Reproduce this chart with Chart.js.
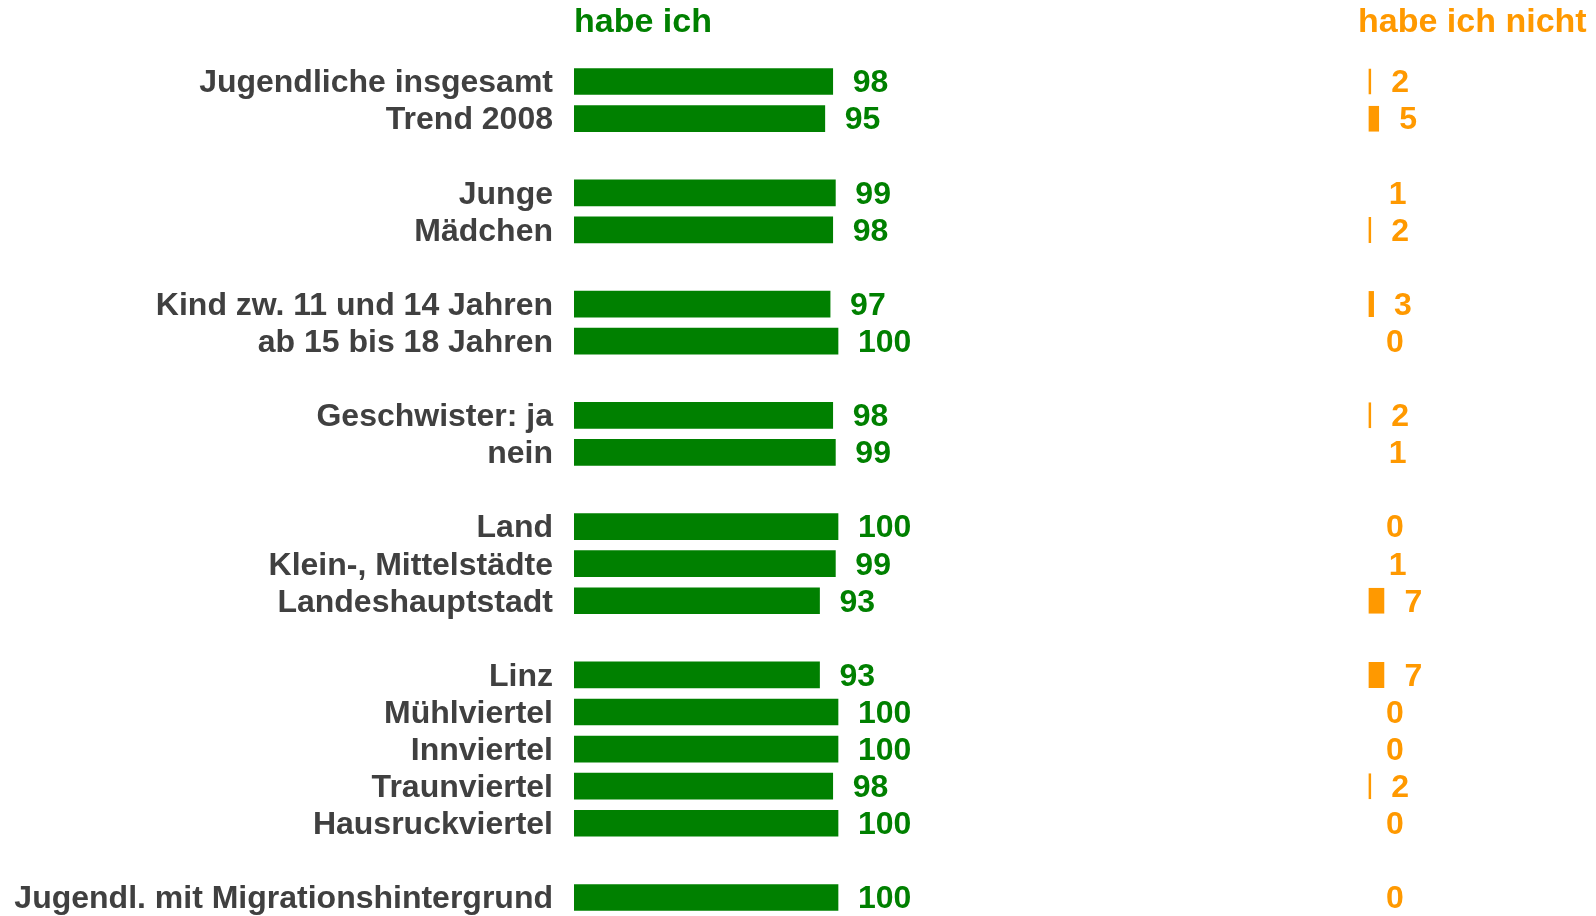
<!DOCTYPE html>
<html>
<head>
<meta charset="utf-8">
<script src="https://cdn.jsdelivr.net/npm/chart.js@4"></script>
<style>
  html, body { margin: 0; padding: 0; background: #fff; }
  #wrap { position: relative; width: 1596px; height: 916px; }
</style>
</head>
<body>
<div id="wrap"><canvas id="chart"></canvas></div>
<script>
// empty strings are spacer rows between the groups
const categories = [
  'Jugendliche insgesamt', 'Trend 2008', '',
  'Junge', 'Mädchen', '',
  'Kind zw. 11 und 14 Jahren', 'ab 15 bis 18 Jahren', '',
  'Geschwister: ja', 'nein', '',
  'Land', 'Klein-, Mittelstädte', 'Landeshauptstadt', '',
  'Linz', 'Mühlviertel', 'Innviertel', 'Traunviertel', 'Hausruckviertel', '',
  'Jugendl. mit Migrationshintergrund'
];
const habeIch = [98, 95, null, 99, 98, null, 97, 100, null, 98, 99, null, 100, 99, 93, null, 93, 100, 100, 98, 100, null, 100];
const habeIchNicht = [2, 5, null, 1, 2, null, 3, 0, null, 2, 1, null, 0, 1, 7, null, 7, 0, 0, 2, 0, null, 0];
const seriesTitles = ['habe ich', 'habe ich nicht'];

const GREEN = '#008000';
const ORANGE = '#ff9900';
const GREY = '#404040';
const FONT = '"Liberation Sans", Arial, sans-serif';
const labelColors = [GREEN, ORANGE];

const textLayer = {
  id: 'textLayer',
  afterDatasetsDraw(chart) {
    const ctx = chart.ctx;
    const yScale = chart.scales.y;
    ctx.save();
    ctx.font = 'bold 32px ' + FONT;
    ctx.textBaseline = 'middle';

    // category names, right aligned left of the bars
    ctx.textAlign = 'right';
    ctx.fillStyle = GREY;
    yScale.ticks.forEach((t, i) => {
      const name = chart.data.labels[t.value];
      if (name) ctx.fillText(name, chart.chartArea.left - 21, yScale.getPixelForTick(i) + 2);
    });

    // value labels at the end of each bar
    ctx.textAlign = 'left';
    chart.data.datasets.forEach((ds, i) => {
      const meta = chart.getDatasetMeta(i);
      const scale = chart.scales[ds.xAxisID];
      ctx.fillStyle = labelColors[i];
      meta.data.forEach((bar, j) => {
        const v = ds.data[j];
        if (v === null) return;
        ctx.fillText(String(v), scale.getPixelForValue(v) + 20, bar.y + 2);
      });
    });

    // column headers
    ctx.font = 'bold 34px ' + FONT;
    ctx.fillStyle = GREEN;
    ctx.fillText(seriesTitles[0], chart.scales.xg.getPixelForValue(0), 23);
    ctx.fillStyle = ORANGE;
    ctx.fillText(seriesTitles[1], chart.scales.xo.getPixelForValue(0) - 8, 23);
    ctx.restore();
  }
};

new Chart(document.getElementById('chart'), {
  type: 'bar',
  data: {
    labels: categories,
    datasets: [
      {
        label: seriesTitles[0],
        data: habeIch,
        backgroundColor: GREEN,
        xAxisID: 'xg',
        grouped: false,
        barThickness: 26
      },
      {
        label: seriesTitles[1],
        data: habeIchNicht,
        // tiny values show no visible bar in the original
        backgroundColor: c => (c.raw > 1 ? ORANGE : 'rgba(0,0,0,0)'),
        // white left edge: the orange bars start a little right of their zero
        borderColor: '#ffffff',
        borderWidth: { left: 2.6, right: 0, top: 0, bottom: 0 },
        borderSkipped: false,
        inflateAmount: 0,
        xAxisID: 'xo',
        grouped: false,
        barThickness: 26
      }
    ]
  },
  options: {
    indexAxis: 'y',
    responsive: true,
    maintainAspectRatio: false,
    animation: false,
    devicePixelRatio: 1,
    layout: { padding: { top: 63, left: 0, right: 0, bottom: 0 } },
    scales: {
      y: {
        grid: { display: false, drawTicks: false },
        border: { display: false },
        ticks: { display: false, autoSkip: false },
        afterFit: s => {
          s.width = 574;
          s.paddingTop = 0;
          s.paddingBottom = 0;
        }
      },
      xg: { display: false, min: 0, max: 387.1 },
      xo: { display: false, min: -300, max: 87.1 }
    },
    plugins: {
      legend: { display: false },
      tooltip: { enabled: false }
    }
  },
  plugins: [textLayer]
});
</script>
</body>
</html>
